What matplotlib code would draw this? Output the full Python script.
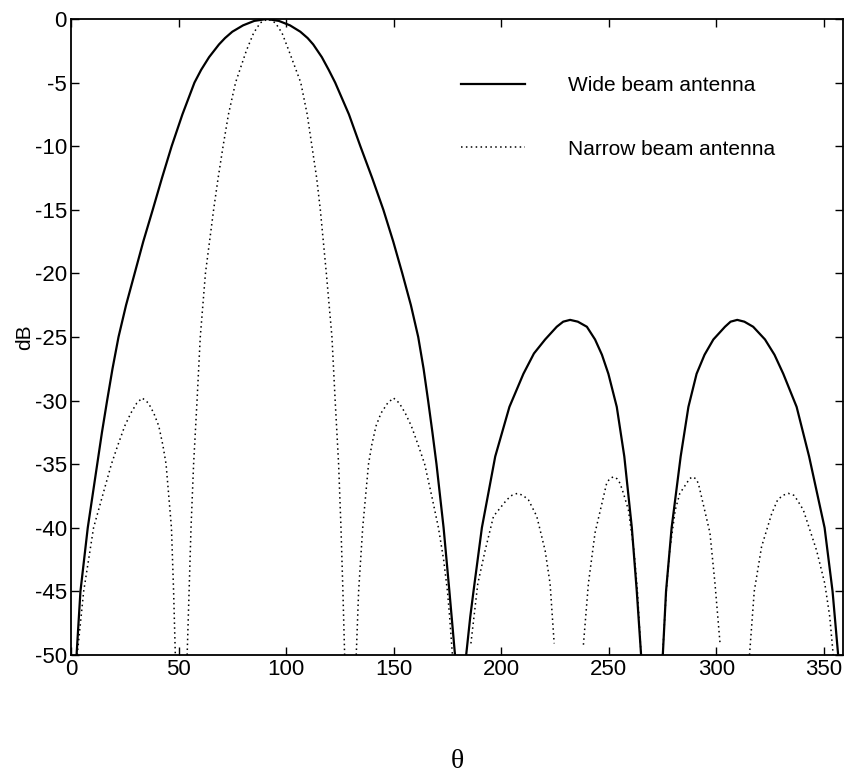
import numpy as np
import matplotlib.pyplot as plt

plt.rcParams['font.family'] = ['Liberation Sans', 'DejaVu Sans']
plt.rcParams['axes.unicode_minus'] = False

nan = np.nan

# wide beam antenna, lobes separated by nan
wide_theta = [2.6, 4.4, 7.8, 12.2, 14.4, 16.8, 19.3, 22.1, 25.6, 29.6, 33.6, 38.0, 42.3, 46.8, 51.8, 57.4,
              60.5, 64.2, 68.8, 71.6, 75.0, 80.0, 85.2, 91.0, 96.6, 101.8, 106.6, 110.0, 112.6, 116.6,
              119.8, 122.8, 129.2, 134.5, 140.0, 145.2, 149.8, 154.0, 158.0, 161.4, 163.9, 166.0, 168.0,
              169.9, 173.2, 175.9, 178.5, nan,
              183.7, 185.6, 187.1, 191.0, 197.2, 203.8, 210.3, 215.2, 220.4, 225.8, 228.8, 232.0, 235.6,
              239.8, 243.6, 246.8, 249.8, 253.7, 257.2, 260.7, 263.0, 265.0, nan,
              275.1, 276.6, 279.2, 283.4, 287.0, 290.8, 294.5, 298.6, 304.0, 306.6, 309.7, 313.0, 317.1,
              322.6, 327.0, 331.1, 337.3, 343.1, 350.3, 354.0, 356.6]
wide_db = [-50, -45, -40, -35, -32.5, -30, -27.5, -25, -22.5, -20, -17.5, -15, -12.5, -10, -7.5, -5,
           -4, -3, -2, -1.5, -1, -0.5, -0.15, 0, -0.15, -0.5, -1, -1.5, -2, -3,
           -4, -5, -7.5, -10, -12.5, -15, -17.5, -20, -22.5, -25, -27.5, -30, -32.5,
           -35, -40, -45, -50, nan,
           -50, -47, -45, -40, -34.4, -30.5, -27.9, -26.3, -25.2, -24.2, -23.8, -23.66, -23.8,
           -24.2, -25.2, -26.4, -27.9, -30.5, -34.4, -40, -45, -50, nan,
           -50, -45, -40, -34.4, -30.5, -27.9, -26.4, -25.2, -24.2, -23.8, -23.66, -23.8, -24.2,
           -25.2, -26.4, -27.9, -30.5, -34.4, -40, -45, -50]

# narrow beam antenna
narrow_theta = [2.9, 5.9, 10.5, 14.5, 18.8, 21.6, 25.0, 27.8, 30.6, 33.1, 36.0, 38.5, 40.8, 42.7, 44.2,
                46.7, 47.7, 48.5, nan,
                54.0, 54.9, 55.8, 57.0, 58.6, 60.1, 62.5, 66.3, 68.4, 70.7, 73.2, 76.5, 81.5, 84.9, 88.0,
                91.5, 95.0, 98.1, 101.3, 106.8, 109.8, 112.0, 114.2, 115.9, 118.7, 121.3, 122.8, 124.4,
                125.5, 126.4, 127.2, nan,
                132.6, 133.7, 135.6, 138.3, 139.8, 141.8, 144.1, 147.2, 149.9, 152.6, 155.4, 158.2, 161.6,
                164.4, 167.8, 170.8, 173.2, 175.0, 176.0, 177.3, nan,
                185.9, 189.1, 192.5, 196.4, 202.6, 205.0, 207.5, 210.0, 212.6, 216.5, 220.4, 222.7, 224.6, nan,
                238.2, 240.5, 243.6, 247.2, 249.0, 250.4, 252.1, 253.8, 255.2, 256.8, 259.1, 261.7, 263.3,
                265.0, nan,
                275.0, 276.7, 278.3, 280.9, 283.0, 286.2, 287.5, 289.0, 290.4, 291.6, 292.7, 297.0, 299.3,
                301.7, nan,
                315.4, 317.6, 321.0, 325.7, 328.5, 331.0, 333.4, 336.0, 337.5, 340.4, 346.6, 350.4, 352.7,
                354.3]
narrow_db = [-50, -45, -40, -37.6, -35, -33.6, -32, -31, -30.2, -29.8, -30.2, -31, -32, -33.5, -35,
             -40, -45, -50, nan,
             -50, -45, -40, -35, -30, -25, -20, -15, -12.5, -10, -7.5, -5, -2.5, -1.1, -0.3,
             0, -0.3, -1.1, -2.5, -5, -7.5, -10, -12.5, -15, -20, -25, -30, -35,
             -40, -45, -50, nan,
             -50, -45, -40, -35, -33.5, -32, -31, -30.2, -29.8, -30.2, -31, -32, -33.6,
             -35, -37.6, -40, -42.5, -45, -47, -50, nan,
             -49.1, -44.4, -41.8, -39.1, -37.8, -37.45, -37.3, -37.45, -37.8, -39.1, -41.8, -44.4, -49.1, nan,
             -49.2, -44.4, -40.4, -37.8, -36.5, -36.15, -36.0, -36.15, -36.5, -37.3, -38.6, -41.8, -45,
             -50, nan,
             -50, -45, -41.8, -38.6, -37.3, -36.5, -36.15, -36.0, -36.15, -36.5, -37.3, -40.4, -44.3,
             -49.1, nan,
             -50, -45, -41.5, -38.9, -37.8, -37.45, -37.3, -37.45, -37.8, -38.6, -41.8, -44.4, -47,
             -50]

fig = plt.figure(figsize=(8.45, 7.75), dpi=100)
ax = fig.add_axes([0.084, 0.155, 0.914, 0.8205])

ax.plot(wide_theta, wide_db, color='black', lw=1.6, label='Wide beam antenna')
ax.plot(narrow_theta, narrow_db, color='black', lw=1.1, linestyle=(0, (1, 2.2)), label='Narrow beam antenna')

ax.set_xlim(0, 359)
ax.set_ylim(-50, 0)
ax.set_xticks(range(0, 351, 50))
ax.set_yticks(range(-50, 1, 5))
ax.tick_params(direction='in', top=True, right=True, length=6, width=1, labelsize=16, pad=3)
for s in ax.spines.values():
    s.set_linewidth(1.3)

ax.set_ylabel('dB', fontsize=15, labelpad=0)
ax.set_xlabel('θ', fontsize=20, family=['Liberation Serif', 'DejaVu Serif'], labelpad=50)

ax.legend(loc='upper left', bbox_to_anchor=(0.505, 0.91), frameon=False, fontsize=15,
          handlelength=3.08, handletextpad=2.07, labelspacing=2.13, borderpad=0, borderaxespad=0)

fig.savefig('out.png', dpi=100)
